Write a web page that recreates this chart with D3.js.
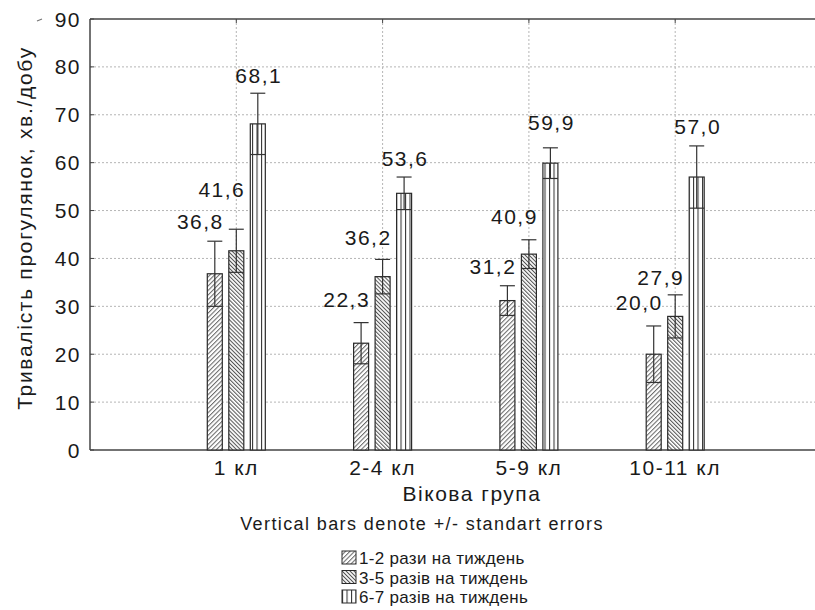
<!DOCTYPE html>
<html><head><meta charset="utf-8">
<script src="https://cdn.jsdelivr.net/npm/d3@7"></script>
<style>
body{margin:0;background:#fff;}
text{font-family:"Liberation Sans",Arial,sans-serif;fill:#1a1a1a;}
</style></head>
<body><svg id="chart" width="815" height="610"></svg>
<script>
const categories = ["1 кл","2-4 кл","5-9 кл","10-11 кл"];
const seriesNames = ["1-2 рази на тиждень","3-5 разів на тиждень","6-7 разів на тиждень"];
const means = [
  [36.8,22.3,31.2,20.0],
  [41.6,36.2,40.9,27.9],
  [68.1,53.6,59.9,57.0]
];
const stdErrors = [
  [6.8,4.3,3.1,5.9],
  [4.5,3.6,3.0,4.5],
  [6.4,3.4,3.2,6.5]
];
const valueLabels = [
  ["36,8","22,3","31,2","20,0"],
  ["41,6","36,2","40,9","27,9"],
  ["68,1","53,6","59,9","57,0"]
];
const yTicks = [0,10,20,30,40,50,60,70,80,90];
const labelGap = [[12,16,12,16],[32,14,16,10],[10,11,18,12]];

const svg = d3.select("#chart");
const L=90, T=19, B=450, R=821.5;
const x = d3.scaleLinear().domain([0,5]).range([L,R]);
const off = d3.scalePoint().domain([0,1,2]).range([-21.5,21.5]);
const bw = 15;
const y = d3.scaleLinear().domain([0,90]).range([B,T]);

const defs = svg.append("defs");
function pat(id, size, angle, color, sw){
  const p = defs.append("pattern").attr("id",id).attr("patternUnits","userSpaceOnUse")
    .attr("width",size).attr("height",size).attr("patternTransform",`rotate(${angle})`);
  p.append("rect").attr("width",size).attr("height",size).attr("fill","#fff");
  p.append("line").attr("x1",0.5).attr("y1",0).attr("x2",0.5).attr("y2",size)
    .attr("stroke",color).attr("stroke-width",sw);
}
pat("p0",3.2,45,"#6a6a6a",1.1);
pat("p1",2.8,-45,"#555",1.1);
pat("p2",4.5,0,"#333",1.1);

// grid
const g = svg.append("g");
g.selectAll(".hg").data(yTicks.filter(d=>d>0 && d<90)).join("line")
  .attr("x1",L).attr("x2",R).attr("y1",d=>y(d)).attr("y2",d=>y(d))
  .attr("stroke","#b5b5b5").attr("stroke-dasharray","2,2").attr("stroke-width",1);
g.selectAll(".vg").data(categories).join("line")
  .attr("x1",(d,i)=>x(i+1)).attr("x2",(d,i)=>x(i+1)).attr("y1",T).attr("y2",B)
  .attr("stroke","#b5b5b5").attr("stroke-dasharray","2,2").attr("stroke-width",1);

// frame
svg.append("line").attr("x1",L).attr("x2",R).attr("y1",T).attr("y2",T).attr("stroke","#444").attr("stroke-width",1.5);
svg.append("line").attr("x1",L).attr("x2",R).attr("y1",B).attr("y2",B).attr("stroke","#444").attr("stroke-width",1.5);
svg.append("line").attr("x1",L).attr("x2",L).attr("y1",T).attr("y2",B).attr("stroke","#444").attr("stroke-width",1.5);
// ticks
svg.selectAll(".yt").data(yTicks).join("line")
  .attr("x1",L).attr("x2",L+4).attr("y1",d=>y(d)).attr("y2",d=>y(d)).attr("stroke","#444");
categories.forEach((c,i)=>{
  svg.append("line").attr("x1",x(i+1)).attr("x2",x(i+1)).attr("y1",T).attr("y2",T+4).attr("stroke","#444");
  svg.append("line").attr("x1",x(i+1)).attr("x2",x(i+1)).attr("y1",B).attr("y2",B-4).attr("stroke","#444");
});

// y tick labels
svg.selectAll(".yl").data(yTicks).join("text")
  .attr("x",81).attr("y",d=>y(d)+7.5).attr("text-anchor","end")
  .style("font-size","21px").style("letter-spacing","1.5px").text(d=>d);

// bars
means.forEach((ser,s)=>{
  ser.forEach((v,i)=>{
    const cx = x(i+1)+off(s);
    svg.append("rect").attr("x",cx-bw/2).attr("y",y(v)).attr("width",bw).attr("height",y(0)-y(v))
      .attr("fill",`url(#p${s})`).attr("stroke","#2a2a2a").attr("stroke-width",1.2);
    const se = stdErrors[s][i];
    const hi = y(v+se), lo = y(v-se);
    svg.append("line").attr("x1",cx).attr("x2",cx).attr("y1",hi).attr("y2",lo).attr("stroke","#333").attr("stroke-width",1.2);
    [hi,lo].forEach(yy=>svg.append("line").attr("x1",cx-bw/2).attr("x2",cx+bw/2).attr("y1",yy).attr("y2",yy).attr("stroke","#333").attr("stroke-width",1.2));
    const t = svg.append("text").attr("y",hi-labelGap[s][i]).style("font-size","21px").style("letter-spacing","1.5px").text(valueLabels[s][i]);
    if(s<2) t.attr("x",cx+bw/2+1.5).attr("text-anchor","end");
    else t.attr("x",cx+1).attr("text-anchor","middle");
  });
});

// x labels
svg.selectAll(".xl").data(categories).join("text")
  .attr("x",(d,i)=>x(i+1)).attr("y",475).attr("text-anchor","middle")
  .style("font-size","21px").style("letter-spacing","1.5px").text(d=>d);
svg.append("text").attr("x",472).attr("y",501).attr("text-anchor","middle")
  .style("font-size","21px").style("letter-spacing","1.5px").text("Вікова група");
svg.append("text").attr("transform","translate(32,228) rotate(-90)").attr("text-anchor","middle")
  .style("font-size","21px").style("letter-spacing","1.7px").text("Тривалість прогулянок, хв./добу");
svg.append("text").attr("x",422).attr("y",530).attr("text-anchor","middle")
  .style("font-size","18px").style("letter-spacing","1.4px").text("Vertical bars denote +/- standart errors");
svg.append("line").attr("x1",37).attr("x2",42).attr("y1",21).attr("y2",19).attr("stroke","#777").attr("stroke-width",1.2);

// legend
seriesNames.forEach((n,s)=>{
  const yy = 551 + s*19.5;
  svg.append("rect").attr("x",342).attr("y",yy).attr("width",14).attr("height",13)
    .attr("fill",`url(#p${s})`).attr("stroke","#2a2a2a").attr("stroke-width",1);
  svg.append("text").attr("x",359).attr("y",yy+13).style("font-size","17px").style("letter-spacing","0.3px").text(n);
});
</script></body></html>
